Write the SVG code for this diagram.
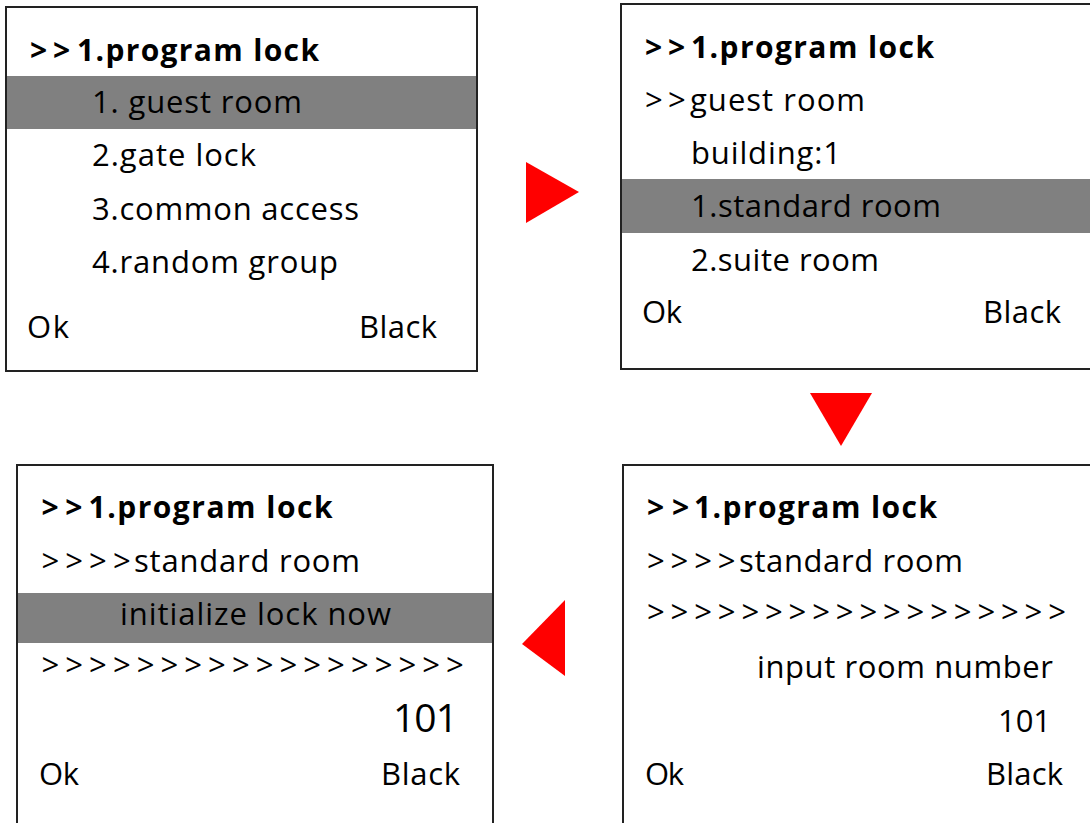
<svg xmlns="http://www.w3.org/2000/svg" width="1090" height="823" viewBox="0 0 1090 823">
<style>
.box{fill:#fff;stroke:#222;stroke-width:2}
.hl{fill:#808080}
.t{font-family:"Open Sans","Noto Sans","DejaVu Sans",sans-serif;font-size:31px;fill:#000}
.b{font-weight:bold;font-size:30px}
.arr{fill:#ff0000}
</style>
<rect width="1090" height="823" fill="#fff"/>
<g id="screen1">
<rect class="box" x="6" y="7" width="471" height="364"/>
<rect class="hl" x="7" y="76" width="469" height="53"/>
<text class="t b" x="30 53" y="61">&gt;&gt;</text>
<text class="t b" x="77" y="61" textLength="242">1.program lock</text>
<text class="t" x="92" y="113" textLength="210">1. guest room</text>
<text class="t" x="92" y="166" textLength="164">2.gate lock</text>
<text class="t" x="92" y="220" textLength="267">3.common access</text>
<text class="t" x="92" y="273" textLength="246">4.random group</text>
<text class="t" x="27" y="338" textLength="42">Ok</text>
<text class="t" x="359" y="338" textLength="78">Black</text>
</g>
<g id="screen2">
<rect class="box" x="621" y="4" width="480" height="365"/>
<rect class="hl" x="622" y="179" width="470" height="54"/>
<text class="t b" x="645 668" y="58">&gt;&gt;</text>
<text class="t b" x="691" y="58" textLength="243">1.program lock</text>
<text class="t" x="645 668" y="111">&gt;&gt;</text>
<text class="t" x="690" y="111" textLength="175">guest room</text>
<text class="t" x="691" y="164" textLength="150">building:1</text>
<text class="t" x="691" y="217" textLength="250">1.standard room</text>
<text class="t" x="691" y="271" textLength="188">2.suite room</text>
<text class="t" x="642" y="323" textLength="40">Ok</text>
<text class="t" x="983" y="323" textLength="78">Black</text>
</g>
<g id="screen3">
<rect class="box" x="17" y="465" width="476" height="370"/>
<rect class="hl" x="18" y="593" width="474" height="50"/>
<text class="t b" x="41.5 65.3" y="518">&gt;&gt;</text>
<text class="t b" x="88.5" y="518" textLength="244">1.program lock</text>
<text class="t" x="41.5 65.3 89.1 112.9" y="572">&gt;&gt;&gt;&gt;</text>
<text class="t" x="134" y="572" textLength="226">standard room</text>
<text class="t" x="120" y="625" textLength="271">initialize lock now</text>
<text class="t" x="41.5 65.3 89.1 112.9 136.7 160.5 184.3 208.1 231.9 255.7 279.5 303.3 327.1 350.9 374.7 398.5 422.3 446.1" y="676">&gt;&gt;&gt;&gt;&gt;&gt;&gt;&gt;&gt;&gt;&gt;&gt;&gt;&gt;&gt;&gt;&gt;&gt;</text>
<text class="t" x="393" y="732" style="font-size:39px" textLength="65">101</text>
<text class="t" x="39" y="785" textLength="40">Ok</text>
<text class="t" x="381" y="785" textLength="79">Black</text>
</g>
<g id="screen4">
<rect class="box" x="623" y="465" width="480" height="370"/>
<text class="t b" x="647 672" y="518">&gt;&gt;</text>
<text class="t b" x="694" y="518" textLength="243">1.program lock</text>
<text class="t" x="647 670.6 694.2 717.8" y="572">&gt;&gt;&gt;&gt;</text>
<text class="t" x="739" y="572" textLength="224">standard room</text>
<text class="t" x="647 670.6 694.2 717.8 741.4 765 788.6 812.2 835.8 859.4 883 906.6 930.2 953.8 977.4 1001 1024.6 1048.2" y="623">&gt;&gt;&gt;&gt;&gt;&gt;&gt;&gt;&gt;&gt;&gt;&gt;&gt;&gt;&gt;&gt;&gt;&gt;</text>
<text class="t" x="757" y="678" textLength="296">input room number</text>
<text class="t" x="998" y="732" textLength="53">101</text>
<text class="t" x="645" y="785" textLength="39">Ok</text>
<text class="t" x="986" y="785" textLength="77">Black</text>
</g>
<g id="connectors">
<polygon class="arr" points="526,162 579,192 526,223"/>
<polygon class="arr" points="810,393 872,393 841,446"/>
<polygon class="arr" points="565,600 565,676 522,644"/>
</g>
</svg>
